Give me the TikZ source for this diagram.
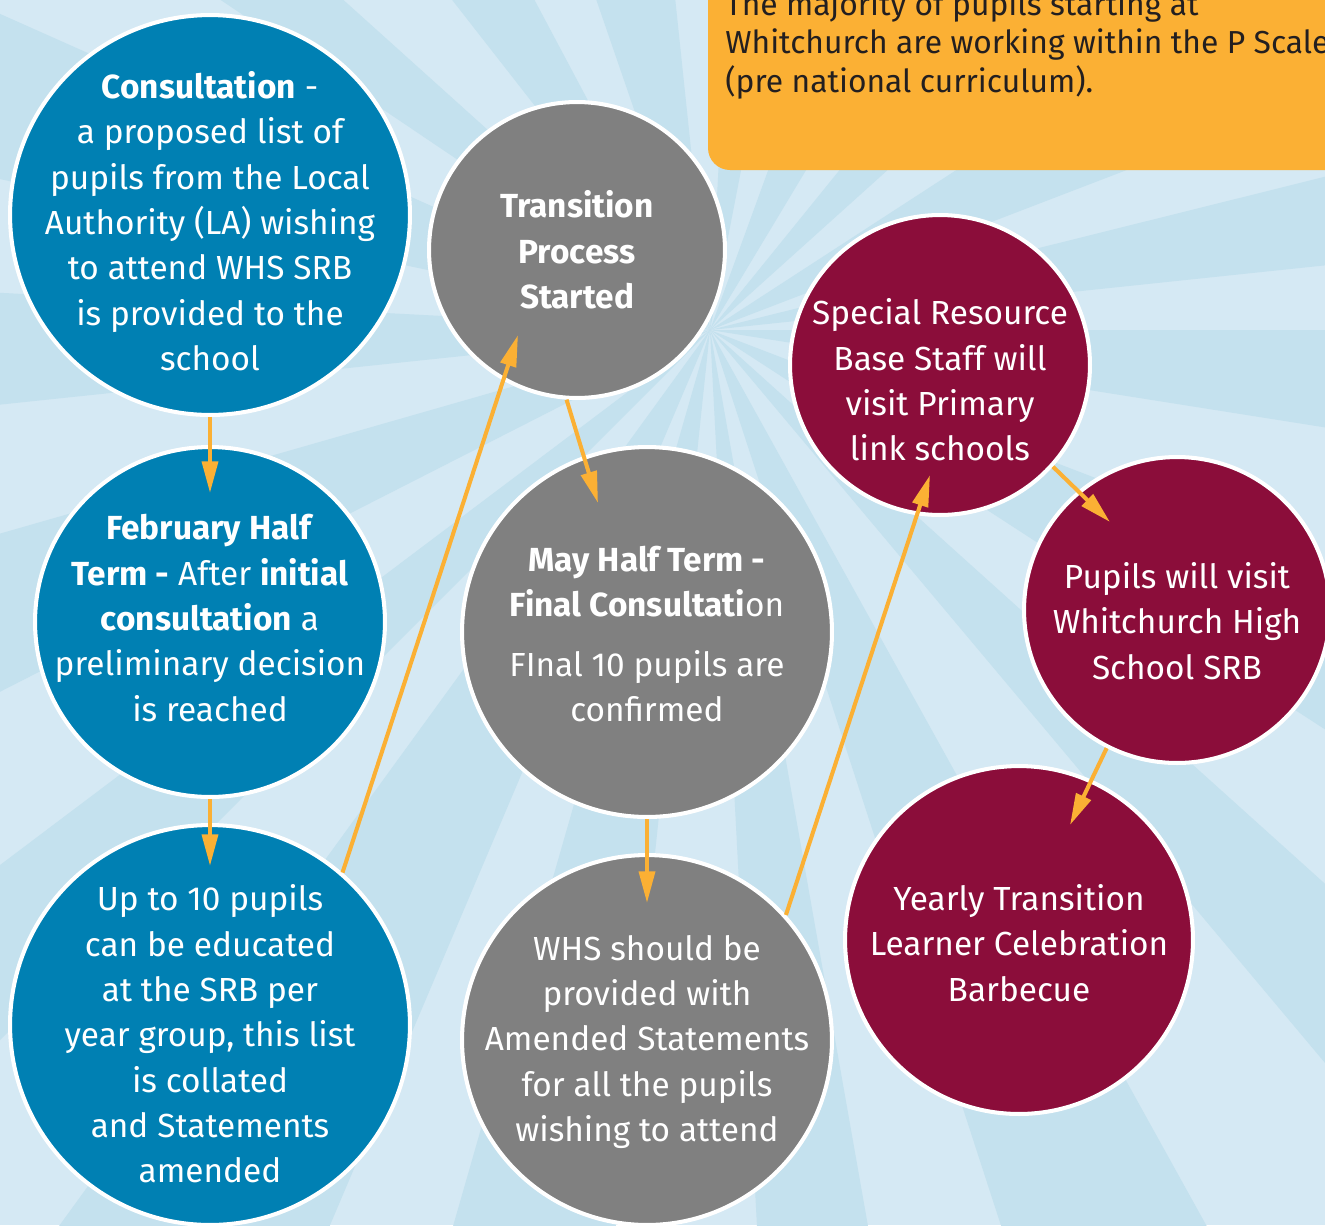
\documentclass[tikz,border=0pt]{standalone}
\usepackage{fontspec}
\setmainfont{Fira Sans}
\usetikzlibrary{arrows.meta,calc}

\definecolor{skylight}{HTML}{D5E9F4}
\definecolor{skyray}{HTML}{C4E1EE}
\definecolor{stepblue}{HTML}{0080B3}
\definecolor{stepgrey}{HTML}{808080}
\definecolor{stepwine}{HTML}{8B0D3A}
\definecolor{notegold}{HTML}{FBB034}
\definecolor{notetext}{HTML}{231F20}

\tikzset{
  bubble/.style={circle, draw=white, line width=2.3pt, inner sep=0pt},
  bubbletext/.style={text=white, align=center, inner sep=0pt, font=\fontsize{19}{25.8}\selectfont},
  link/.style={draw=notegold, line width=2.3pt, -{Triangle[length=18pt,width=9pt]}},
}

\begin{document}
\begin{tikzpicture}[x=0.02cm, y=-0.02cm]
    \useasboundingbox (0,0) rectangle (1325,1225);
    % sunburst background
    \begin{scope}
        \clip (0,0) rectangle (1325,1225);
        \fill[skylight] (0,0) rectangle (1325,1225);
        \coordinate (hub) at (710,330);
        \foreach \a/\w in {0/9, 21/12, 42/8, 61/11, 80/7, 96/10, 113/13, 135/8, 153/11, 174/9,
                           192/12, 214/8, 232/10, 251/13, 273/8, 290/11, 309/9, 327/12, 346/8}
            \fill[skyray] (hub) -- ($(hub)+(\a:2500)$) -- ($(hub)+({\a+\w}:2500)$) -- cycle;
    \end{scope}

    % note box
    \fill[notegold, rounded corners=0.44cm] (708,-40) rectangle (1380,170);
    \node[anchor=north west, inner sep=0pt, text=notetext, align=left,
          font=\fontsize{18.1}{22}\selectfont] (note) at (725,-10)
        {The majority of pupils starting at\\Whitchurch are working within the P Scales\\(pre national curriculum).};

    % steps
    \node[bubble, fill=stepblue, minimum size=8cm] (cons) at (210,215) {};
    \node[bubble, fill=stepblue, minimum size=7cm] (feb) at (210,622) {};
    \node[bubble, fill=stepblue, minimum size=8cm] (upto) at (210,1025) {};
    \node[bubble, fill=stepgrey, minimum size=5.92cm] (trans) at (577,250) {};
    \node[bubble, fill=stepgrey, minimum size=7.4cm] (may) at (647,632) {};
    \node[bubble, fill=stepgrey, minimum size=7.4cm] (whs) at (647,1040) {};
    \node[bubble, fill=stepwine, minimum size=6cm] (spec) at (940,365) {};
    \node[bubble, fill=stepwine, minimum size=6.12cm] (pup) at (1177,610) {};
    \node[bubble, fill=stepwine, minimum size=6.96cm] (year) at (1019,940) {};

    % step texts
    \node[bubbletext] (cons-txt) at ($(cons)+(0,6)$)
        {\textbf{Consultation} -\\a proposed list of\\pupils from the Local\\Authority (LA) wishing\\to attend WHS SRB\\is provided to the\\school};
    \node[bubbletext] (feb-txt) at ($(feb)+(0,-4)$)
        {\textbf{February Half}\\\textbf{Term -} After \textbf{initial}\\\textbf{consultation} a\\preliminary decision\\is reached};
    \node[bubbletext] (upto-txt) at ($(upto)+(0,9)$)
        {Up to 10 pupils\\can be educated\\at the SRB per\\year group, this list\\is collated\\and Statements\\amended};
    \node[bubbletext] (trans-txt) at (trans)
        {\textbf{Transition}\\\textbf{Process}\\\textbf{Started}};
    \node[bubbletext] (may-txt) at ($(may)+(0,2)$)
        {\textbf{May Half Term -}\\\textbf{Final Consultati}on\\[8.5pt]FInal 10 pupils are\\confirmed};
    \node[bubbletext] (whs-txt) at ($(whs)+(0,2)$)
        {WHS should be\\provided with\\Amended Statements\\for all the pupils\\wishing to attend};
    \node[bubbletext] (spec-txt) at ($(spec)+(0,15)$)
        {Special Resource\\Base Staff will\\visit Primary\\link schools};
    \node[bubbletext] (pup-txt) at ($(pup)+(0,11)$)
        {Pupils will visit\\Whitchurch High\\School SRB};
    \node[bubbletext] (year-txt) at ($(year)+(0,3)$)
        {Yearly Transition\\Learner Celebration\\Barbecue};

    % arrows
    \draw[link] (cons.south) -- ($(feb.north)+(0,48)$);
    \draw[link] (feb.south) -- ($(upto.north)+(0,43)$);
    \draw[link] (upto.49) -- ($(trans.center)+(-59,85)$);
    \draw[link] (trans.266) -- ($(may.center)+(-49,-129)$);
    \draw[link] (may.south) -- ($(whs.north)+(0,50)$);
    \draw[link] (whs.42) -- ($(spec.center)+(-10,110)$);
    \draw[link] (spec.-42) -- ($(pup.center)+(-67,-88)$);
    \draw[link] (pup.243) -- ($(year.center)+(51,-115)$);
\end{tikzpicture}
\end{document}
